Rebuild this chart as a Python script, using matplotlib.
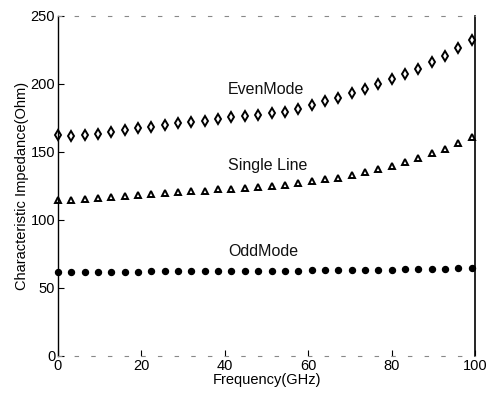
import matplotlib
matplotlib.use("Agg")
import matplotlib.pyplot as plt

freq = [0, 3.2, 6.4, 9.6, 12.8, 16, 19.2, 22.4, 25.6, 28.8, 32, 35.2, 38.4, 41.6,
        44.8, 48, 51.2, 54.4, 57.6, 60.8, 64, 67.2, 70.4, 73.6, 76.8, 80, 83.2,
        86.4, 89.6, 92.8, 96, 99.2]

even_mode = [162.5, 162, 162.5, 163.5, 165, 166, 167.3, 168.5, 169.8, 171, 172, 173,
             174.5, 175.5, 176.5, 177.2, 178.5, 179.7, 181.6, 184.6, 187.5, 190,
             193.6, 196.6, 200, 203.4, 207, 211.3, 215.9, 220.6, 226.7, 232.4]

single_line = [115, 114.7, 115.2, 116.4, 117.1, 117.9, 118.4, 119.1, 120.2, 120.8,
               121.3, 121.5, 122.5, 123, 123.8, 124.2, 124.8, 125.7, 127, 128.9,
               130.1, 131.1, 133.1, 135.1, 137.3, 139.7, 142.4, 145.3, 149, 152.2,
               156.4, 160.8]

odd_mode = [61.5, 61.7, 61.8, 62, 62, 62.1, 61.8, 62.2, 62.3, 62.3, 62.4, 62.2,
            62.5, 62.5, 62.6, 62.6, 62.7, 62.8, 62.8, 62.9, 63, 63.1, 63.2, 63.3,
            63.4, 63.5, 63.6, 63.8, 63.9, 64.1, 64.4, 65]

x_ticks = [0, 20, 40, 60, 80, 100]
y_ticks = [0, 50, 100, 150, 200, 250]

labels = ["EvenMode", "Single Line", "OddMode"]
label_pos = [(40.8, 195.6), (40.8, 140.4), (40.8, 76.8)]

plt.rcParams['font.family'] = ['Liberation Sans', 'DejaVu Sans']

fig = plt.figure(figsize=(4.89, 3.97), dpi=100)
ax = fig.add_axes([0.1186, 0.1033, 0.8528, 0.8564])

ax.plot(freq, even_mode, linestyle='none', marker='d', markersize=5,
        markerfacecolor='white', markeredgecolor='black', markeredgewidth=1.4, clip_on=False)
ax.plot(freq, single_line, linestyle='none', marker='^', markersize=4.5,
        markerfacecolor='white', markeredgecolor='black', markeredgewidth=1.4, clip_on=False)
ax.plot(freq, odd_mode, linestyle='none', marker='o', markersize=4.3,
        markerfacecolor='black', markeredgecolor='black', clip_on=False)

for txt, (x, y) in zip(labels, label_pos):
    ax.text(x, y, txt, fontsize=11.5, ha='left', va='center', color='#111111')

ax.set_xlim(0, 100)
ax.set_ylim(0, 250)
ax.set_xticks(x_ticks)
ax.set_yticks(y_ticks)
ax.tick_params(direction='in', length=4, labelsize=10.5, colors='black', pad=2)
ax.set_xlabel("Frequency(GHz)", fontsize=10.5, labelpad=0)
ax.set_ylabel("Characteristic Impedance(Ohm)", fontsize=10.5, labelpad=1)

ax.spines['left'].set_linewidth(1.0)
ax.spines['right'].set_linewidth(1.2)
for s in ['top', 'bottom']:
    ax.spines[s].set_linestyle((0, (3, 12)))
    ax.spines[s].set_color('#888888')
    ax.spines[s].set_linewidth(0.8)

fig.savefig("out.png", dpi=100)
